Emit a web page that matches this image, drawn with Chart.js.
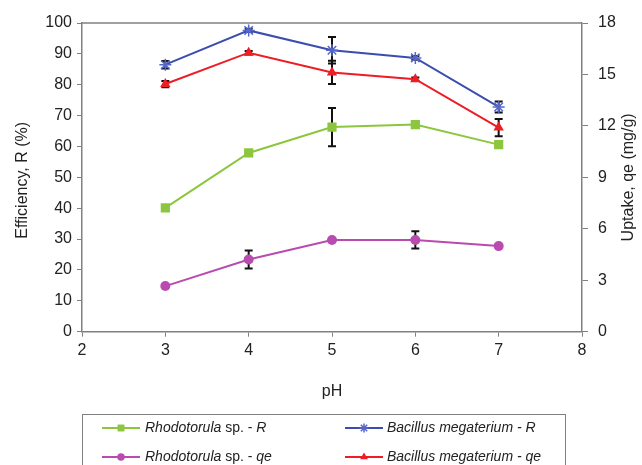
<!DOCTYPE html>
<html>
<head>
<meta charset="utf-8">
<script src="https://cdn.jsdelivr.net/npm/chart.js@4.4.1/dist/chart.umd.min.js"></script>
<style>
  html, body { margin: 0; padding: 0; background: #ffffff; }
  #wrap { width: 642px; height: 465px; position: relative; }
</style>
</head>
<body>
<div id="wrap"><canvas id="c" width="642" height="465"></canvas></div>
<script>
// ---- data ----
const pH = [3, 4, 5, 6, 7];
const xTicks = [2, 3, 4, 5, 6, 7, 8];
const leftTicks = [0, 10, 20, 30, 40, 50, 60, 70, 80, 90, 100];
const rightTicks = [0, 3, 6, 9, 12, 15, 18];

const rhodoR = [40.1, 57.9, 66.3, 67.1, 60.6];
const rhodoRErr = [0, 0, 6.2, 0, 0];
const bacR = [86.5, 97.6, 91.2, 88.7, 72.8];
const bacRErr = [1.2, 0.5, 4.3, 0.6, 1.8];
const rhodoQe = [2.66, 4.21, 5.35, 5.35, 4.99];
const rhodoQeErr = [0, 0.52, 0, 0.5, 0];
const bacQe = [14.44, 16.27, 15.12, 14.72, 11.90];
const bacQeErr = [0.18, 0.1, 0.68, 0.1, 0.5];

const labels = {
  rhodoR: [["Rhodotorula", true], [" sp. - ", false], ["R", true]],
  bacR: [["Bacillus megaterium - R", true]],
  rhodoQe: [["Rhodotorula", true], [" sp. - ", false], ["qe", true]],
  bacQe: [["Bacillus megaterium - qe", true]]
};

const FONT = "'Liberation Sans', Arial, sans-serif";
const AXIS_GRAY = '#808080';
const TEXT = '#222222';

function pts(ys) { return pH.map((x, i) => ({ x: x, y: ys[i] })); }

const datasets = [
  { key: 'rhodoR', label: 'Rhodotorula sp. - R', data: pts(rhodoR), err: rhodoRErr, yAxisID: 'y',
    borderColor: '#8CC63E', backgroundColor: '#8CC63E', pointStyle: 'rect', pointRadius: 6.5,
    pointBorderWidth: 0, borderWidth: 2 },
  { key: 'bacR', label: 'Bacillus megaterium - R', data: pts(bacR), err: bacRErr, yAxisID: 'y',
    borderColor: '#3B4DB0', backgroundColor: '#3B4DB0', pointStyle: 'star', pointRadius: 6,
    pointBorderColor: '#5566C8', pointBorderWidth: 1.5, borderWidth: 2 },
  { key: 'rhodoQe', label: 'Rhodotorula sp. - qe', data: pts(rhodoQe), err: rhodoQeErr, yAxisID: 'y1',
    borderColor: '#B94AB0', backgroundColor: '#B94AB0', pointStyle: 'circle', pointRadius: 5,
    pointBorderWidth: 0, borderWidth: 2 },
  { key: 'bacQe', label: 'Bacillus megaterium - qe', data: pts(bacQe), err: bacQeErr, yAxisID: 'y1',
    borderColor: '#EE1C24', backgroundColor: '#EE1C24', pointStyle: 'triangle', pointRadius: 6,
    pointBorderWidth: 0, borderWidth: 2 }
];

const errorBars = {
  id: 'errorBars',
  beforeDatasetsDraw(chart) {
    const ctx = chart.ctx;
    const xs = chart.scales.x;
    ctx.save();
    ctx.strokeStyle = '#111111';
    ctx.lineWidth = 2;
    chart.data.datasets.forEach(ds => {
      const ys = chart.scales[ds.yAxisID];
      ds.data.forEach((p, i) => {
        const e = ds.err[i];
        if (!e) return;
        const px = xs.getPixelForValue(p.x);
        const top = ys.getPixelForValue(p.y + e);
        const bot = ys.getPixelForValue(p.y - e);
        ctx.beginPath();
        ctx.moveTo(px, top); ctx.lineTo(px, bot);
        ctx.moveTo(px - 4, top); ctx.lineTo(px + 4, top);
        ctx.moveTo(px - 4, bot); ctx.lineTo(px + 4, bot);
        ctx.stroke();
      });
    });
    ctx.restore();
  }
};

const decorations = {
  id: 'decorations',
  afterDraw(chart) {
    const ctx = chart.ctx;
    const a = chart.chartArea;
    ctx.save();
    // top frame line
    ctx.strokeStyle = AXIS_GRAY;
    ctx.lineWidth = 1.5;
    ctx.beginPath();
    ctx.moveTo(a.left, a.top); ctx.lineTo(a.right, a.top);
    ctx.stroke();

    // axis titles
    ctx.fillStyle = TEXT;
    ctx.font = '16px ' + FONT;
    ctx.textAlign = 'center';
    ctx.textBaseline = 'middle';
    ctx.fillText('pH', (a.left + a.right) / 2, 391.5);
    ctx.save();
    ctx.translate(23, (a.top + a.bottom) / 2 + 3);
    ctx.rotate(-Math.PI / 2);
    ctx.fillText('Efficiency, R (%)', 0, 0);
    ctx.restore();
    ctx.save();
    ctx.translate(629, (a.top + a.bottom) / 2);
    ctx.rotate(-Math.PI / 2);
    ctx.fillText('Uptake, qe (mg/g)', 0, 0);
    ctx.restore();

    // legend
    ctx.strokeStyle = AXIS_GRAY;
    ctx.lineWidth = 1;
    ctx.strokeRect(82.5, 414.5, 483, 60);
    const cols = [{ l: 102, r: 140, t: 145 }, { l: 345, r: 383, t: 387 }];
    const rows = [428, 457];
    const order = [[0, 0, 0], [1, 1, 0], [2, 0, 1], [3, 1, 1]];
    order.forEach(([di, ci, ri]) => {
      const ds = chart.data.datasets[di];
      const c = cols[ci], y = rows[ri];
      ctx.strokeStyle = ds.borderColor;
      ctx.lineWidth = 2;
      ctx.beginPath();
      ctx.moveTo(c.l, y); ctx.lineTo(c.r, y);
      ctx.stroke();
      ctx.fillStyle = ds.backgroundColor;
      ctx.strokeStyle = ds.pointBorderColor || ds.borderColor;
      ctx.lineWidth = ds.pointBorderWidth || 1;
      ctx.beginPath();
      Chart.helpers.drawPoint(ctx, {
        pointStyle: ds.pointStyle,
        radius: ds.pointRadius * 0.75,
        borderWidth: ds.pointBorderWidth || 0,
        rotation: 0
      }, (c.l + c.r) / 2, y);
      // text
      let x = c.t;
      ctx.fillStyle = TEXT;
      ctx.textAlign = 'left';
      ctx.textBaseline = 'middle';
      labels[ds.key].forEach(([s, it]) => {
        ctx.font = (it ? 'italic ' : '') + '14px ' + FONT;
        ctx.fillText(s, x, y);
        x += ctx.measureText(s).width;
      });
    });
    ctx.restore();
  }
};

new Chart(document.getElementById('c'), {
  type: 'line',
  data: { datasets: datasets },
  options: {
    responsive: false,
    animation: false,
    layout: { padding: { top: 23, left: 0, right: 0, bottom: 0 } },
    plugins: { legend: { display: false }, tooltip: { enabled: false } },
    scales: {
      x: {
        type: 'linear', min: 2, max: 8,
        afterBuildTicks: s => { s.ticks = xTicks.map(v => ({ value: v })); },
        afterFit: s => { s.height = 133.3; },
        grid: { drawOnChartArea: false, drawTicks: true, tickLength: 5, color: AXIS_GRAY },
        border: { display: true, color: AXIS_GRAY, width: 1.5 },
        ticks: { color: TEXT, font: { size: 16, family: FONT }, padding: 4, maxRotation: 0 }
      },
      y: {
        position: 'left', min: 0, max: 100,
        afterBuildTicks: s => { s.ticks = leftTicks.map(v => ({ value: v })); },
        afterFit: s => { s.width = 82; },
        grid: { drawOnChartArea: false, drawTicks: true, tickLength: 5, color: AXIS_GRAY },
        border: { display: true, color: AXIS_GRAY, width: 1.5 },
        ticks: { color: TEXT, font: { size: 16, family: FONT }, padding: 5 }
      },
      y1: {
        position: 'right', min: 0, max: 18,
        afterBuildTicks: s => { s.ticks = rightTicks.map(v => ({ value: v })); },
        afterFit: s => { s.width = 60; },
        grid: { drawOnChartArea: false, drawTicks: true, tickLength: 6, color: AXIS_GRAY },
        border: { display: true, color: AXIS_GRAY, width: 1.5 },
        ticks: { color: TEXT, font: { size: 16, family: FONT }, padding: 10 }
      }
    }
  },
  plugins: [errorBars, decorations]
});
</script>
</body>
</html>
